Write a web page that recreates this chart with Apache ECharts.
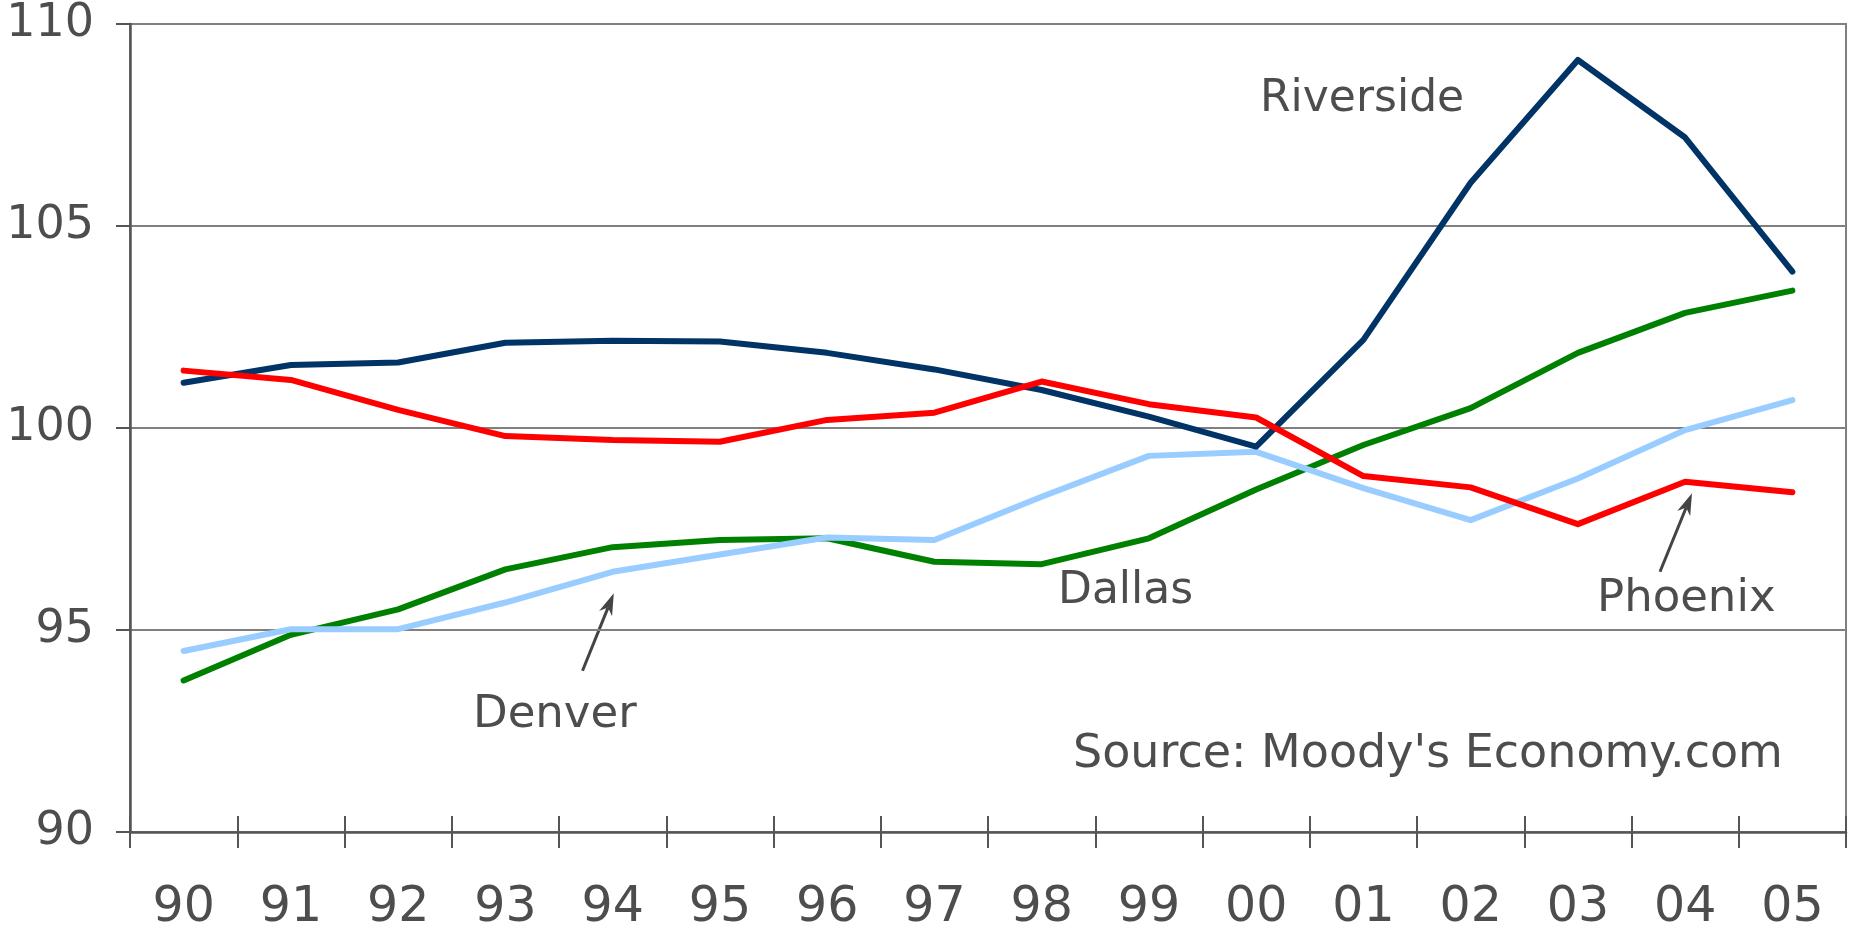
<!DOCTYPE html>
<html>
<head>
<meta charset="utf-8">
<script src="https://cdn.jsdelivr.net/npm/echarts@6/dist/echarts.min.js"></script>
<style>
html,body{margin:0;padding:0;background:#fff;}
#chart{width:1852px;height:928px;}
</style>
</head>
<body>
<div id="chart"></div>
<script>
const years = ['90','91','92','93','94','95','96','97','98','99','00','01','02','03','04','05'];
const riverside = [101.12, 101.56, 101.62, 102.11, 102.16, 102.14, 101.86, 101.45, 100.94, 100.28, 99.54, 102.18, 106.07, 109.11, 107.19, 103.87];
const phoenix   = [101.42, 101.19, 100.45, 99.80, 99.70, 99.66, 100.20, 100.38, 101.15, 100.59, 100.26, 98.81, 98.53, 97.62, 98.67, 98.41];
const dallas    = [93.75, 94.88, 95.51, 96.50, 97.05, 97.23, 97.27, 96.69, 96.63, 97.27, 98.48, 99.58, 100.49, 101.86, 102.85, 103.40];
const denver    = [94.48, 95.02, 95.02, 95.68, 96.44, 96.87, 97.29, 97.23, 98.30, 99.31, 99.41, 98.51, 97.72, 98.75, 99.95, 100.69];
const yTicks = [90, 95, 100, 105, 110];

const FONT = 'DejaVu Sans';
const TXT = '#4d4d4d';
const AX = '#555555';
const GRIDC = '#808080';

function arrow(x1, y1, x2, y2) {
  const dx = x2 - x1, dy = y2 - y1;
  const L = Math.sqrt(dx*dx + dy*dy);
  const ux = dx / L, uy = dy / L;
  const px = -uy, py = ux;
  const len = 22, hw = 7;
  const bx = x2 - ux*len, by = y2 - uy*len;
  const nx = x2 - ux*len*0.7, ny = y2 - uy*len*0.7;
  return [
    {type:'line', shape:{x1:x1, y1:y1, x2:nx, y2:ny}, style:{stroke:'#444', lineWidth:3}},
    {type:'polygon', shape:{points:[[x2,y2],[bx+px*hw, by+py*hw],[nx,ny],[bx-px*hw, by-py*hw]]}, style:{fill:'#444'}}
  ];
}
function label(text, x, y, size) {
  return {type:'text', x:x, y:y, style:{text:text, font:(size||45) + 'px "' + FONT + '"', fill:TXT, verticalAlign:'middle', align:'left'}};
}

const chart = echarts.init(document.getElementById('chart'));
const lineSeries = (name, data, color) => ({
  name, type:'line', data, symbol:'none', xAxisIndex:0,
  lineStyle:{color, width:6, cap:'round', join:'round'},
  itemStyle:{color}
});

chart.setOption({
  animation:false,
  backgroundColor:'#fff',
  grid:{left:130, right:6, top:24, bottom:96, show:true, borderColor:GRIDC, borderWidth:2,
        containLabel:false, outerBoundsMode:'none'},
  xAxis:[
    {type:'category', data:years, position:'bottom', boundaryGap:true,
     axisLine:{show:true, lineStyle:{color:AX, width:2.5}},
     axisTick:{show:true, inside:false, length:16, interval:0, lineStyle:{color:AX, width:2}},
     axisLabel:{show:true, interval:0, margin:52, fontFamily:FONT, fontSize:49, color:TXT},
     splitLine:{show:false}},
    {type:'category', data:years, position:'bottom', boundaryGap:true,
     axisLine:{show:false},
     axisTick:{show:true, inside:true, length:16, interval:0, lineStyle:{color:AX, width:2}},
     axisLabel:{show:false}, splitLine:{show:false}}
  ],
  yAxis:{type:'value', min:yTicks[0], max:yTicks[yTicks.length-1], interval:5,
    axisLine:{show:true, lineStyle:{color:AX, width:2.5}},
    axisTick:{show:true, inside:false, length:14, lineStyle:{color:AX, width:2}},
    axisLabel:{margin:36, fontFamily:FONT, fontSize:46, color:TXT, padding:[8,0,0,0]},
    splitLine:{show:true, lineStyle:{color:GRIDC, width:2}}},
  series:[
    lineSeries('Dallas', dallas, '#008000'),
    lineSeries('Denver', denver, '#99CCFF'),
    lineSeries('Riverside', riverside, '#003366'),
    lineSeries('Phoenix', phoenix, '#FF0000')
  ],
  graphic:[
    label('Riverside', 1260, 100, 44),
    label('Dallas', 1058, 592, 44),
    label('Denver', 473, 715, 45),
    label('Phoenix', 1597, 599, 45),
    label("Source: Moody's Economy.com", 1073, 755, 46),
    ...arrow(582.5, 670.7, 613.8, 593.3),
    ...arrow(1660, 571.7, 1692, 493.3)
  ]
});
</script>
</body>
</html>
